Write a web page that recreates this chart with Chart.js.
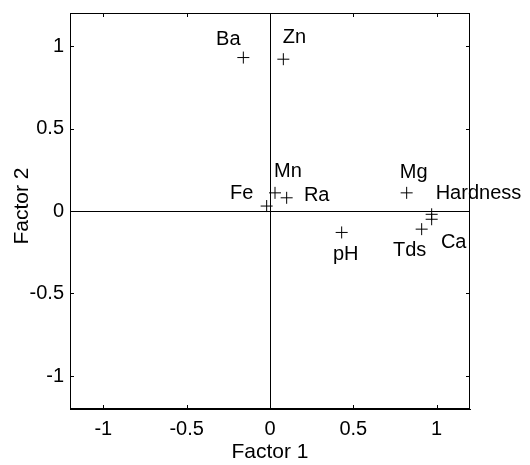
<!DOCTYPE html>
<html>
<head>
<meta charset="utf-8">
<script src="https://cdn.jsdelivr.net/npm/chart.js@4/dist/chart.umd.min.js"></script>
<style>
  html, body { margin: 0; padding: 0; background: #fff; }
  #wrap { width: 530px; height: 465px; }
</style>
</head>
<body>
<div id="wrap"><canvas id="c"></canvas></div>
<script>
// ---- data ----
const variables = ["Ba", "Zn", "Fe", "Mn", "Ra", "Mg", "Hardness", "Ca", "Tds", "pH"];
const factor1   = [-0.16, 0.08, -0.02, 0.03, 0.10, 0.82, 0.97, 0.97, 0.91, 0.43];
const factor2   = [ 0.93, 0.92,  0.03, 0.11, 0.08, 0.11, -0.02, -0.05, -0.11, -0.13];
const tickValues = [-1, -0.5, 0, 0.5, 1];
const tickLabels = ["-1", "-0.5", "0", "0.5", "1"];
const xTitle = "Factor 1";
const yTitle = "Factor 2";

// ---- label placement (pixels relative to point) ----
const labelStyle = {
  "Ba":       { dx: -15, dy: -13, align: "center" },
  "Zn":       { dx: 11,  dy: -16, align: "center" },
  "Fe":       { dx: -25, dy: -7,  align: "center" },
  "Mn":       { dx: 13,  dy: -16, align: "center" },
  "Ra":       { dx: 30,  dy: 3,   align: "center" },
  "Mg":       { dx: 7,   dy: -15, align: "center" },
  "Hardness": { dx: 4,   dy: -15, align: "left" },
  "Ca":       { dx: 22,  dy: 29,  align: "center" },
  "Tds":      { dx: -12, dy: 27,  align: "center" },
  "pH":       { dx: 4,   dy: 28,  align: "center" }
};

const FONT = "'Liberation Sans', Arial, Helvetica, sans-serif";
const points = variables.map((v, i) => ({ x: factor1[i], y: factor2[i], label: v }));

const framePlugin = {
  id: "frame",
  afterDraw(chart) {
    const { ctx, chartArea: a, scales } = chart;
    ctx.save();
    ctx.strokeStyle = "#000";
    ctx.lineWidth = 1;
    ctx.strokeRect(a.left + 0.5, a.top + 0.5, a.right - a.left - 1, a.bottom - a.top - 1);
    // inward tick marks
    tickValues.forEach(v => {
      const px = Math.round(scales.x.getPixelForValue(v)) + 0.5;
      const py = Math.round(scales.y.getPixelForValue(v)) + 0.5;
      ctx.beginPath();
      ctx.moveTo(px, a.bottom); ctx.lineTo(px, a.bottom - 4);
      ctx.moveTo(px, a.top); ctx.lineTo(px, a.top + 4);
      ctx.moveTo(a.left, py); ctx.lineTo(a.left + 4, py);
      ctx.moveTo(a.right, py); ctx.lineTo(a.right - 4, py);
      ctx.stroke();
    });
    // point labels
    ctx.fillStyle = "#000";
    ctx.font = "20px " + FONT;
    ctx.textBaseline = "alphabetic";
    const meta = chart.getDatasetMeta(0);
    meta.data.forEach((el, i) => {
      const name = variables[i];
      const s = labelStyle[name];
      ctx.textAlign = s.align;
      ctx.fillText(name, el.x + s.dx, el.y + s.dy);
    });
    // y axis title
    ctx.font = "21px " + FONT;
    ctx.textAlign = "center";
    ctx.textBaseline = "middle";
    ctx.translate(a.left - 48, (a.top + a.bottom) / 2 - 5);
    ctx.rotate(-Math.PI / 2);
    ctx.fillText(yTitle, 0, 0);
    ctx.restore();
  }
};

const zeroGrid = ctx => (ctx.tick && ctx.tick.value === 0) ? "#000" : "rgba(0,0,0,0)";

new Chart(document.getElementById("c"), {
  type: "scatter",
  data: {
    datasets: [{
      data: points,
      pointStyle: "cross",
      pointRadius: 6,
      pointHoverRadius: 6,
      borderColor: "#000",
      backgroundColor: "#000",
      borderWidth: 1
    }]
  },
  options: {
    responsive: true,
    maintainAspectRatio: false,
    animation: false,
    events: [],
    layout: { padding: { top: 13, right: 60, left: 0, bottom: 0 } },
    plugins: { legend: { display: false }, tooltip: { enabled: false } },
    scales: {
      x: {
        type: "linear",
        min: -1.2, max: 1.2,
        afterBuildTicks: s => { s.ticks = tickValues.map(v => ({ value: v })); },
        afterFit: s => { s.height = 56; s.paddingLeft = 0; s.paddingRight = 0; },
        grid: { color: zeroGrid, drawTicks: false, lineWidth: 1 },
        border: { display: true, color: "#000" },
        ticks: {
          color: "#000", padding: 8, maxRotation: 0,
          font: { family: FONT, size: 20 },
          callback: (v) => { const i = tickValues.indexOf(v); return i >= 0 ? tickLabels[i] : ""; }
        },
        title: {
          display: true, text: xTitle, color: "#000",
          font: { family: FONT, size: 21 }, padding: { top: 2, bottom: 0 }
        }
      },
      y: {
        type: "linear",
        min: -1.2, max: 1.2,
        afterBuildTicks: s => { s.ticks = tickValues.map(v => ({ value: v })); },
        afterFit: s => { s.width = 70; s.paddingTop = 0; s.paddingBottom = 0; },
        grid: { color: zeroGrid, drawTicks: false, lineWidth: 1 },
        border: { display: true, color: "#000" },
        ticks: {
          color: "#000", padding: 6,
          font: { family: FONT, size: 20 },
          callback: (v) => { const i = tickValues.indexOf(v); return i >= 0 ? tickLabels[i] : ""; }
        },
        title: { display: false }
      }
    }
  },
  plugins: [framePlugin]
});
</script>
</body>
</html>
